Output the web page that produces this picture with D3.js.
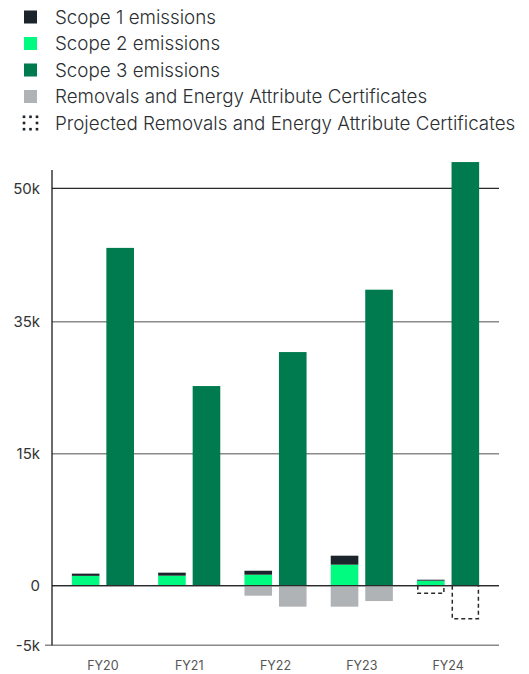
<!DOCTYPE html>
<html>
<head>
<meta charset="utf-8">
<script src="https://cdn.jsdelivr.net/npm/d3@7"></script>
<style>
  body { margin: 0; background: #fff; }
  svg { display: block; font-family: Inter, "Noto Sans", sans-serif; }
</style>
</head>
<body>
<svg id="chart" width="529" height="674"></svg>
<script>
// fiscal years
const YEARS = ['FY20', 'FY21', 'FY22', 'FY23', 'FY24'];
// emissions (tCO2e)
const SCOPE1 = [250, 340, 450, 1020, 110];
const SCOPE2 = [1120, 1140, 1250, 2390, 570];
const SCOPE3 = [43300, 25250, 30400, 38600, 52950];
// removals under the small (scope 1+2) bar and under the scope 3 bar
const REMOVALS_12 = [0, 0, 840, 1760, 0];
const REMOVALS_3 = [0, 0, 1760, 1290, 0];
// projected removals (FY24 only)
const PROJ_12 = [0, 0, 0, 0, 640];
const PROJ_3 = [0, 0, 0, 0, 2770];
// the axis ticks in the original are not evenly spaced in value
const Y_TICKS = [-5000, 0, 15000, 35000, 50000];
const Y_TICK_LABELS = ['-5k', '0', '15k', '35k', '50k'];

const LEGEND = [
  { label: 'Scope 1 emissions', color: '#1b232b' },
  { label: 'Scope 2 emissions', color: '#00fb80' },
  { label: 'Scope 3 emissions', color: '#007a4f' },
  { label: 'Removals and Energy Attribute Certificates', color: '#b0b3b5' },
  { label: 'Projected Removals and Energy Attribute Certificates', dashed: true },
];

const C1 = '#1b232b', C2 = '#00fb80', C3 = '#007a4f', CR = '#b0b3b5';

const svg = d3.select('#chart');

// legend
const lg = svg.append('g');
LEGEND.forEach((d, i) => {
  const cy = 17 + i * 26.5;
  if (d.dashed) {
    // dotted square icon: 8 dots round the edge
    [-1, 0, 1].forEach(gx => [-1, 0, 1].forEach(gy => {
      if (!gx && !gy) return;
      lg.append('rect')
        .attr('x', 30.5 + gx * 6.5 - 1.3).attr('y', cy + gy * 6.2 - 1.3)
        .attr('width', 2.6).attr('height', 2.6)
        .attr('fill', '#1b232b');
    }));
  } else {
    lg.append('rect')
      .attr('x', 24).attr('y', cy - 6.5)
      .attr('width', 13).attr('height', 13)
      .attr('fill', d.color);
  }
  lg.append('text')
    .attr('x', 55).attr('y', cy)
    .attr('dominant-baseline', 'central')
    .attr('font-size', 18.8)
    .attr('font-weight', 300)
    .attr('fill', '#2b2f33')
    .text(d.label);
});

// scales
const x = d3.scaleBand().domain(YEARS).range([52, 499])
  .paddingInner(0.28).paddingOuter(0.23);
const sub = d3.scaleBand().domain(['s12', 's3']).range([0, x.bandwidth()])
  .paddingInner(0.2);
const y = d3.scaleLinear()
  .domain(Y_TICKS)
  .range([645.3, 585.7, 453.7, 321.7, 188.3]);

// gridlines
const grid = svg.append('g');
Y_TICKS.forEach(t => {
  const dark = t === 0 || t === 50000;
  grid.append('line')
    .attr('x1', t === -5000 ? 45 : 52).attr('x2', 499)
    .attr('y1', y(t)).attr('y2', y(t))
    .attr('stroke', dark ? '#2a2a2a' : '#8a8a8a')
    .attr('stroke-width', dark ? 1.3 : 1.6);
});

// y tick labels
svg.append('g').selectAll('text')
  .data(Y_TICKS)
  .join('text')
  .attr('x', 40)
  .attr('y', d => y(d))
  .attr('text-anchor', 'end')
  .attr('dominant-baseline', 'central')
  .attr('font-size', 15)
  .attr('fill', '#333')
  .text((d, i) => Y_TICK_LABELS[i]);

// bars
const bars = svg.append('g');
YEARS.forEach((yr, i) => {
  const x12 = x(yr) + sub('s12');
  const x3 = x(yr) + sub('s3');
  const w = sub.bandwidth();

  // scope 2 then scope 1 stacked on top
  bars.append('rect')
    .attr('x', x12).attr('width', w)
    .attr('y', y(SCOPE2[i])).attr('height', y(0) - y(SCOPE2[i]))
    .attr('fill', C2);
  bars.append('rect')
    .attr('x', x12).attr('width', w)
    .attr('y', y(SCOPE2[i] + SCOPE1[i]))
    .attr('height', y(SCOPE2[i]) - y(SCOPE2[i] + SCOPE1[i]))
    .attr('fill', C1);
  // scope 3
  bars.append('rect')
    .attr('x', x3).attr('width', w)
    .attr('y', y(SCOPE3[i])).attr('height', y(0) - y(SCOPE3[i]))
    .attr('fill', C3);

  // removals (negative)
  [[x12, REMOVALS_12[i]], [x3, REMOVALS_3[i]]].forEach(([bx, v]) => {
    if (!v) return;
    bars.append('rect')
      .attr('x', bx).attr('width', w)
      .attr('y', y(0)).attr('height', y(-v) - y(0))
      .attr('fill', CR);
  });

  // projected removals: dashed outline, open at the zero line
  [[x12, PROJ_12[i]], [x3, PROJ_3[i]]].forEach(([bx, v]) => {
    if (!v) return;
    const p = d3.path();
    p.moveTo(bx + 0.75, y(0));
    p.lineTo(bx + 0.75, y(-v));
    p.lineTo(bx + w - 0.75, y(-v));
    p.lineTo(bx + w - 0.75, y(0));
    bars.append('path')
      .attr('d', p.toString())
      .attr('fill', 'none')
      .attr('stroke', '#2a2a2a')
      .attr('stroke-width', 1.5)
      .attr('stroke-dasharray', '4,3');
  });
});

// zero line on top of bars
svg.append('line')
  .attr('x1', 52).attr('x2', 499)
  .attr('y1', y(0)).attr('y2', y(0))
  .attr('stroke', '#2a2a2a').attr('stroke-width', 1.3);

// y axis line
svg.append('line')
  .attr('x1', 52).attr('x2', 52)
  .attr('y1', 170).attr('y2', y(-5000))
  .attr('stroke', '#1b1b1b').attr('stroke-width', 1.3);

// x labels
svg.append('g').selectAll('text')
  .data(YEARS)
  .join('text')
  .attr('x', d => x(d) + x.bandwidth() / 2)
  .attr('y', 665)
  .attr('text-anchor', 'middle')
  .attr('dominant-baseline', 'central')
  .attr('font-size', 12.5)
  .attr('fill', '#555')
  .text(d => d);
</script>
</body>
</html>
